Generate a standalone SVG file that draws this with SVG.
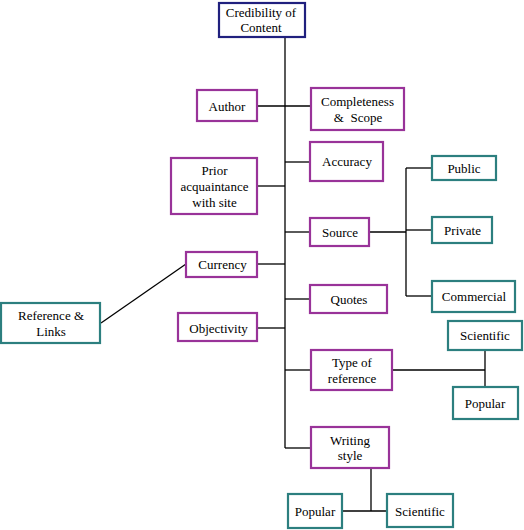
<svg xmlns="http://www.w3.org/2000/svg" width="524" height="530" viewBox="0 0 524 530" font-family="Liberation Serif, DejaVu Serif, serif">
<style>
rect{fill:#fff;stroke-width:2.2}
.root{stroke:#20207e}
.p{stroke:#993399}
.t{stroke:#2c7f7f}
text{font-size:13px;fill:#000;text-anchor:middle}
#connectors line{stroke:#000;stroke-width:1.3}
</style>
<rect x="0" y="0" width="524" height="530" style="fill:#fff;stroke:none"/>
<g id="connectors">
<line x1="285" y1="38" x2="285" y2="448"/>
<line x1="258" y1="106" x2="310" y2="106"/>
<line x1="285" y1="162" x2="310" y2="162"/>
<line x1="258" y1="186" x2="285" y2="186"/>
<line x1="285" y1="232" x2="310" y2="232"/>
<line x1="258" y1="264" x2="285" y2="264"/>
<line x1="285" y1="299" x2="310" y2="299"/>
<line x1="258" y1="328" x2="285" y2="328"/>
<line x1="285" y1="370" x2="311" y2="370"/>
<line x1="285" y1="448" x2="311" y2="448"/>
<line x1="370" y1="232" x2="406" y2="232"/>
<line x1="406" y1="168" x2="406" y2="296"/>
<line x1="406" y1="168" x2="432" y2="168"/>
<line x1="406" y1="230" x2="432" y2="230"/>
<line x1="406" y1="296" x2="432" y2="296"/>
<line x1="392" y1="370" x2="485" y2="370"/>
<line x1="485" y1="351" x2="485" y2="387"/>
<line x1="371" y1="469" x2="371" y2="511"/>
<line x1="343" y1="511" x2="387" y2="511"/>
<line x1="101" y1="323" x2="186" y2="264"/>
</g>
<g id="credibility"><rect class="root" x="219" y="3" width="86" height="34"/><text x="261" y="17">Credibility of</text><text x="261" y="31.5">Content</text></g>
<g id="author"><rect class="p" x="197" y="90" width="60" height="31"/><text x="227" y="111">Author</text></g>
<g id="completeness"><rect class="p" x="311" y="88" width="93" height="42"/><text x="357.5" y="106">Completeness</text><text x="358" y="122" xml:space="preserve">&amp;  Scope</text></g>
<g id="accuracy"><rect class="p" x="310" y="142" width="73" height="39"/><text x="347" y="166">Accuracy</text></g>
<g id="prior"><rect class="p" x="171" y="158" width="86" height="56"/><text x="214.5" y="175">Prior</text><text x="214.5" y="191">acquaintance</text><text x="214.5" y="206.5">with site</text></g>
<g id="source"><rect class="p" x="310" y="218" width="59" height="28"/><text x="340" y="237">Source</text></g>
<g id="public"><rect class="t" x="432" y="156" width="64" height="24"/><text x="464" y="173">Public</text></g>
<g id="private"><rect class="t" x="432" y="217" width="60" height="26"/><text x="462.5" y="235">Private</text></g>
<g id="commercial"><rect class="t" x="432" y="281" width="83" height="31"/><text x="474" y="301">Commercial</text></g>
<g id="currency"><rect class="p" x="186" y="252" width="71" height="25"/><text x="222.5" y="269">Currency</text></g>
<g id="reflinks"><rect class="t" x="1" y="303" width="99" height="40"/><text x="51" y="320">Reference &amp;</text><text x="51" y="335.5">Links</text></g>
<g id="quotes"><rect class="p" x="310" y="285" width="77" height="28"/><text x="349" y="304">Quotes</text></g>
<g id="objectivity"><rect class="p" x="178" y="313" width="79" height="28"/><text x="218.5" y="333">Objectivity</text></g>
<g id="scientific1"><rect class="t" x="448" y="321" width="74" height="29"/><text x="485" y="339.5">Scientific</text></g>
<g id="typeref"><rect class="p" x="311" y="350" width="81" height="40"/><text x="352" y="367">Type of</text><text x="352" y="383">reference</text></g>
<g id="popular1"><rect class="t" x="453" y="387" width="65" height="32"/><text x="485" y="408">Popular</text></g>
<g id="writing"><rect class="p" x="311" y="427" width="78" height="41"/><text x="350" y="444.5">Writing</text><text x="350" y="460">style</text></g>
<g id="popular2"><rect class="t" x="288" y="494" width="54" height="34"/><text x="315" y="516">Popular</text></g>
<g id="scientific2"><rect class="t" x="387" y="494" width="66" height="33"/><text x="420" y="516">Scientific</text></g>
</svg>
